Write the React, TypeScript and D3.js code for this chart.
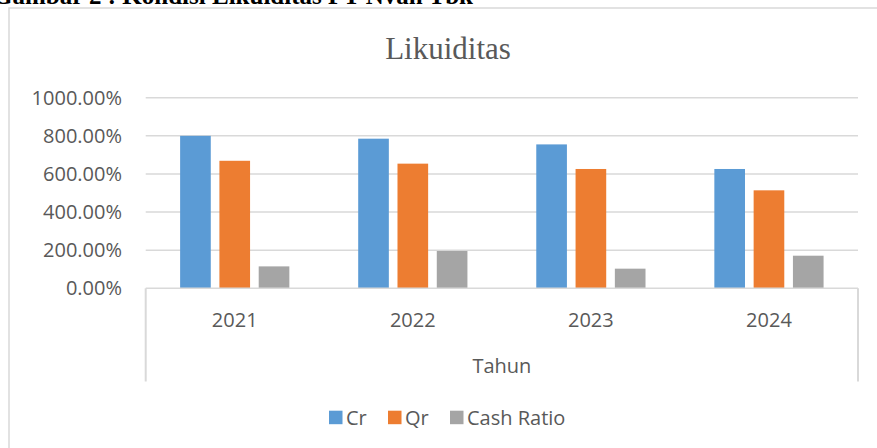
import React from "react";
import * as d3 from "d3";

const categories = ["2021", "2022", "2023", "2024"];
const seriesNames = ["Cr", "Qr", "Cash Ratio"];
const crValues = [800, 785, 755, 626];
const qrValues = [669, 654, 626, 514];
const cashValues = [115, 196, 103, 171];
const yTicks = [0, 200, 400, 600, 800, 1000];
const colors = ["#5B9BD5", "#ED7D31", "#A5A5A5"];

const W = 877;
const H = 448;
const plot = { left: 145.7, right: 858, top: 97.7, bottom: 288.3 };
const FONT = "'Open Sans', sans-serif";
const TEXT = "#595959";
const GRID = "#D9D9D9";

export default function App() {
  const values = [crValues, qrValues, cashValues];
  const x0 = d3.scaleBand<string>().domain(categories).range([plot.left, plot.right]).padding(0);
  const x1 = d3
    .scaleBand<string>()
    .domain(seriesNames)
    .range([0, x0.bandwidth()])
    .paddingInner(0.22)
    .paddingOuter(0.876);
  const y = d3.scaleLinear().domain([0, 1000]).range([plot.bottom, plot.top]);
  const boxBottom = 381.5;
  const cx = (plot.left + plot.right) / 2;

  const legendItems = [
    { name: "Cr", x: 329 },
    { name: "Qr", x: 388 },
    { name: "Cash Ratio", x: 450 },
  ];

  return (
    <svg
      width={W}
      height={H}
      style={{ position: "absolute", left: 0, top: 0, background: "#fff" }}
    >
      <rect x={0} y={0} width={W} height={H} fill="#fff" />
      {/* caption above chart, cut off at the top edge as in the reference */}
      <text
        x={473}
        y={4}
        textAnchor="end"
        fontFamily="'Liberation Serif', serif"
        fontWeight="bold"
        fontSize={25}
        fill="#000"
      >
        Gambar 2 : Kondisi Likuiditas PT Nvan Tbk
      </text>
      {/* chart frame */}
      <rect x={9} y={8} width={W + 20} height={H + 20} fill="#fff" stroke={GRID} strokeWidth={1.5} />
      {/* title */}
      <text
        x={448}
        y={59}
        textAnchor="middle"
        fontFamily="'Liberation Serif', serif"
        fontSize={31}
        fill={TEXT}
      >
        Likuiditas
      </text>
      {/* gridlines and y labels */}
      {yTicks.map((t) => (
        <g key={t}>
          {t > 0 && (
            <line x1={plot.left} x2={plot.right} y1={y(t)} y2={y(t)} stroke={GRID} strokeWidth={1.5} />
          )}
          <text
            x={122}
            y={y(t)}
            dy="0.35em"
            textAnchor="end"
            fontFamily={FONT}
            fontSize={20}
            fill={TEXT}
          >
            {t.toFixed(2) + "%"}
          </text>
        </g>
      ))}
      {/* bars */}
      {categories.map((c, ci) => (
        <g key={c} transform={`translate(${x0(c)},0)`}>
          {seriesNames.map((s, si) => {
            const v = values[si][ci];
            return (
              <rect
                key={s}
                x={x1(s)}
                y={y(v)}
                width={x1.bandwidth()}
                height={y(0) - y(v)}
                fill={colors[si]}
              />
            );
          })}
        </g>
      ))}
      {/* axis box */}
      <line x1={plot.left} x2={plot.right} y1={y(0)} y2={y(0)} stroke={GRID} strokeWidth={1.5} />
      <line x1={plot.left} x2={plot.left} y1={y(0)} y2={boxBottom} stroke={GRID} strokeWidth={2} />
      <line x1={plot.right} x2={plot.right} y1={y(0)} y2={boxBottom} stroke={GRID} strokeWidth={2} />
      {categories.map((c) => (
        <text
          key={c}
          x={(x0(c) as number) + x0.bandwidth() / 2}
          y={326.5}
          textAnchor="middle"
          fontFamily={FONT}
          fontSize={20}
          fill={TEXT}
        >
          {c}
        </text>
      ))}
      <text x={cx} y={373.3} textAnchor="middle" fontFamily={FONT} fontSize={20} fill={TEXT}>
        Tahun
      </text>
      {/* legend */}
      {legendItems.map((it, i) => (
        <g key={it.name}>
          <rect x={it.x} y={410.7} width={13.5} height={13.5} fill={colors[i]} />
          <text x={it.x + 17} y={424.7} fontFamily={FONT} fontSize={20} fill={TEXT}>
            {it.name}
          </text>
        </g>
      ))}
    </svg>
  );
}
